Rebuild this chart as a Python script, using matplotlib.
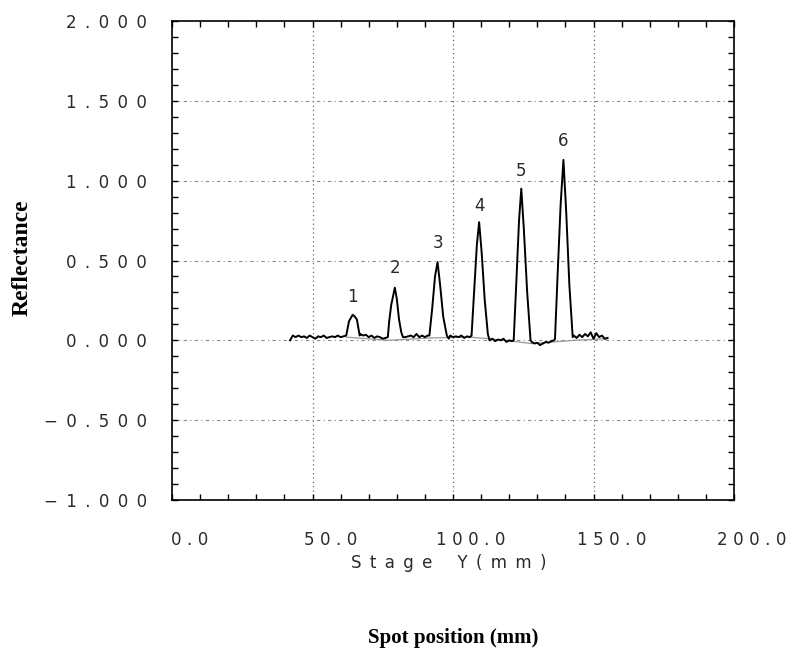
import matplotlib
matplotlib.use("Agg")
import matplotlib.pyplot as plt
import matplotlib.transforms as mtrans
from matplotlib.ticker import MultipleLocator

# trace (mm, reflectance)
stage_x = [42, 43, 44, 45, 46, 47, 48, 49, 50, 51, 52, 53, 54, 55, 56, 57, 58, 59, 60, 61,
           62, 63, 64.3, 65, 65.8, 66.8,
           67, 68, 69, 70, 71, 72, 73, 74, 75, 76,
           76.8, 77.3, 78.0, 79.3, 80.0, 80.8, 81.6, 82.2,
           83, 84, 85, 86, 87, 88, 89, 90, 91,
           91.6, 92.6, 93.6, 94.5, 95.4, 96.5, 97.8,
           98.5, 99, 100, 101, 102, 103, 104, 105, 106,
           106.6, 107.5, 108.5, 109.3, 110.2, 111.3, 112.4,
           113, 114, 115, 116, 117, 118, 119, 120, 121,
           121.6, 122.5, 123.5, 124.3, 125.2, 126.4, 127.6,
           128, 129, 130, 131, 132, 133, 134, 135, 136,
           136.3, 137.2, 138.3, 139.3, 140.3, 141.4, 142.6,
           143, 144, 145, 146, 147, 148, 149, 150, 151, 152, 153, 154, 155]
refl = [0.0, 0.03, 0.02, 0.03, 0.02, 0.025, 0.015, 0.03, 0.02, 0.01, 0.025, 0.02, 0.03, 0.015, 0.02, 0.025, 0.02, 0.03, 0.02, 0.025,
        0.03, 0.12, 0.16, 0.15, 0.13, 0.03,
        0.04, 0.03, 0.035, 0.02, 0.03, 0.015, 0.025, 0.02, 0.01, 0.015,
        0.02, 0.12, 0.22, 0.33, 0.26, 0.13, 0.05, 0.02,
        0.02, 0.025, 0.03, 0.02, 0.04, 0.02, 0.03, 0.02, 0.03,
        0.03, 0.2, 0.4, 0.49, 0.35, 0.15, 0.03,
        0.01, 0.03, 0.02, 0.025, 0.02, 0.03, 0.015, 0.025, 0.02,
        0.03, 0.3, 0.6, 0.74, 0.55, 0.25, 0.04,
        0.0, 0.01, -0.005, 0.005, 0.0, 0.01, -0.01, 0.0, -0.005,
        0.0, 0.35, 0.75, 0.95, 0.7, 0.3, 0.0,
        -0.01, -0.02, -0.015, -0.03, -0.02, -0.01, -0.015, -0.005, 0.0,
        0.01, 0.4, 0.85, 1.13, 0.8, 0.35, 0.02,
        0.03, 0.015, 0.035, 0.02, 0.04, 0.025, 0.05, 0.01, 0.045, 0.02, 0.03, 0.01, 0.015]

# fitted baseline (grey)
base_x = [62, 77, 92, 106, 113, 128, 136, 143, 155]
base_y = [0.02, 0.0, 0.015, 0.02, 0.01, -0.02, -0.01, 0.0, 0.01]

# spot labels
spot_ids = ["1", "2", "3", "4", "5", "6"]
spot_x = [64.3, 79.3, 94.5, 109.3, 124.3, 139.3]
spot_lab_y = [0.27, 0.45, 0.61, 0.84, 1.06, 1.25]

x_ticks = [0, 50, 100, 150, 200]
x_labels = ["0.0", "50.0", "100.0", "150.0", "200.0"]
y_ticks = [-1.0, -0.5, 0.0, 0.5, 1.0, 1.5, 2.0]
y_labels = ["-1.000", "-0.500", "0.000", "0.500", "1.000", "1.500", "2.000"]

EN = "\u2002"   # en space
TPE = "\u2004"  # three-per-em space (x labels, a bit tighter so 200.0 fits)


def spaced(s, sp=EN):
    return sp.join(s.replace("-", "\u2212"))


font = "DejaVu Sans"
ink = "#2a2a2a"
fs = 12

fig = plt.figure(figsize=(7.9, 6.56), dpi=100)
ax = fig.add_axes([172 / 790, 1 - 500 / 656, (734 - 172) / 790, (500 - 21) / 656])

ax.plot(base_x, base_y, color="#999999", lw=0.9)
ax.plot(stage_x, refl, color="black", lw=1.4)

for sid, sx, sy in zip(spot_ids, spot_x, spot_lab_y):
    ax.text(sx, sy, sid, family=font, fontsize=fs, color=ink, ha="center", va="center")

ax.set_xlim(0, 200)
ax.set_ylim(-1.0, 2.0)

ax.set_xticks(x_ticks)
ax.set_xticklabels([spaced(l, TPE) for l in x_labels], family=font, fontsize=fs, color=ink)
ax.set_yticks(y_ticks)
ax.set_yticklabels([spaced(l) for l in y_labels], family=font, fontsize=fs, color=ink)
ax.xaxis.set_minor_locator(MultipleLocator(10))
ax.yaxis.set_minor_locator(MultipleLocator(0.1))
ax.tick_params(which="both", direction="in", top=True, right=True, length=4, width=1)
ax.tick_params(axis="x", pad=22)
ax.tick_params(axis="y", pad=18)

# x labels sit to the right of their ticks in the original
shift = mtrans.ScaledTranslation(18 / 100, 0, fig.dpi_scale_trans)
for lab in ax.get_xticklabels():
    lab.set_transform(lab.get_transform() + shift)

for v in [50, 100, 150]:
    ax.axvline(v, color="#666666", lw=0.9, ls=(0, (1, 2.5)), zorder=0)
for v in [-0.5, 0.0, 0.5, 1.0, 1.5]:
    ax.axhline(v, color="#888888", lw=0.8, ls=(0, (3, 3, 1, 3)), zorder=0)

for sp in ax.spines.values():
    sp.set_linewidth(1.2)

fig.text(449 / 790, 1 - 563 / 656, spaced("Stage") + EN * 3 + spaced("Y(mm)"),
         family=font, fontsize=fs, color=ink, ha="center", va="center")
fig.text(22 / 790, 1 - 258 / 656, "Reflectance", family="Liberation Serif",
         fontweight="bold", fontsize=17, rotation=90, ha="center", va="center")
fig.text(453 / 790, 1 - 638 / 656, "Spot position (mm)", family="Liberation Serif",
         fontweight="bold", fontsize=15, ha="center", va="center")

fig.savefig("out.png", dpi=100)
